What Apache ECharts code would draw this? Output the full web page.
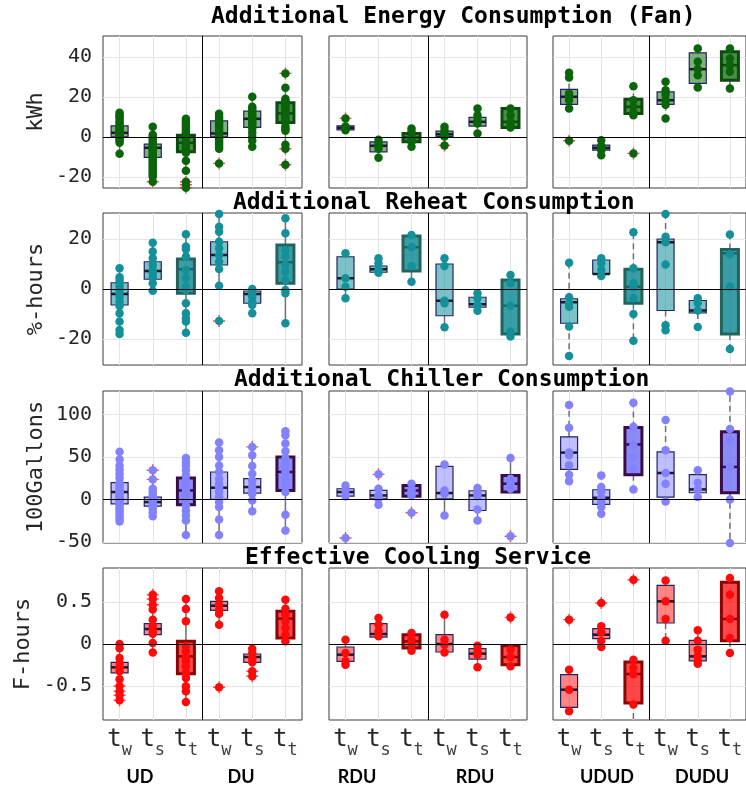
<!DOCTYPE html>
<html>
<head>
<meta charset="utf-8">
<script src="https://cdn.jsdelivr.net/npm/echarts@6.0.0/dist/echarts.min.js"></script>
<style>
  html, body { margin: 0; padding: 0; background: #fff; }
  #chart { width: 746px; height: 786px; }
</style>
</head>
<body>
<div id="chart"></div>
<script>
// box order in every metric: UD tw,ts,tt, DU tw,ts,tt | RDU x2 | UDUD, DUDU
const tickBase = ['t', 't', 't', 't', 't', 't'];
const tickSub = ['w', 's', 't', 'w', 's', 't'];
const groupNames = ['UD', 'DU', 'RDU', 'RDU', 'UDUD', 'DUDU'];
const titles = ['Additional Energy Consumption (Fan)', 'Additional Reheat Consumption',
  'Additional Chiller Consumption', 'Effective Cooling Service'];
const yNames = ['kWh', '%-hours', '100Gallons', 'F-hours'];

// y-axis extents and tick labels per row
const yMin = [-25.6, -30.4, -51.2, -0.905];
const yMax = [50.4, 30.4, 127.5, 0.905];
const fanTicks = [-20, 0, 20, 40];
const reheatTicks = [-20, 0, 20];
const chillerTicks = [-50, 0, 50, 100];
const coolingTicks = [-0.5, 0, 0.5];

// [lower whisker, q1, median, q3, upper whisker]
const fanStats = [
  [-8.5, 0, 2, 5.5, 12], [-20, -10.3, -5.5, -3.7, 5], [-17, -7.5, -3, 0.8, 9],
  [-6, 0, 1.7, 8, 11.5], [-5, 4.7, 9, 12.8, 20], [-4, 7.2, 11.7, 17, 24.5],
  [3.3, 3.5, 4.5, 5.5, 5.5], [-10.5, -7.5, -4.5, -2.5, -1.5], [-5, -2.5, -0.3, 1.7, 4.2],
  [0.2, 0.2, 1.3, 2.8, 5], [1.7, 5.3, 7.5, 9.7, 14.2], [4.7, 4.7, 7.5, 14.2, 14.2],
  [14.2, 16.2, 20, 23.7, 32], [-9.2, -6.7, -5.5, -4.2, -1.7], [10.8, 11.7, 15, 18.8, 25.3],
  [9.2, 16.2, 18.3, 22.5, 27.5], [24.7, 26.7, 33.8, 42, 44.2], [24.2, 28.3, 35.8, 42.5, 44.2]
];
const fanPoints = [
  [12, 11, 10, 9.5, 8, 7, 6, 5, 4.5, 4, 3, 2.5, 2, 1.5, 1, 0.5, 0, -0.5, -1, -2, -3, -8.5],
  [5, 1, 0, -1, -2, -3, -4, -5, -6, -7, -8, -9, -10, -11, -12, -13, -14, -15, -16, -17, -18, -19, -20, -22.5],
  [9, 8, 7, 6, 5, 4, 3, 2, 1, 0, -1, -2, -3, -4, -5, -6, -7, -8, -12, -17, -22.5, -24, -25.5],
  [11.5, 10, 9, 8, 7, 6, 5, 4, 3, 2, 1, 0, -1, -2, -3, -4, -5, -6, -13.3],
  [20, 15, 14, 13, 12, 11, 10, 9, 8, 7, 6, 5, 4, 2, 0, -2, -5],
  [31.7, 24.5, 19, 18, 17, 16, 15, 14, 13, 12, 11, 10, 9, 8, 7, 5, 4, 3, -4, -6, -14],
  [9.2, 5.2, 4.5, 4, 3.3], [-1.5, -3.5, -4.5, -6, -10.5], [4.2, 2.5, 0, -1, -2.5, -5],
  [5, 3.3, 1.7, 0.8, 0.2, -4.3], [14.2, 10.8, 8.3, 6.7, 1.7], [14.2, 10.8, 7.5, 6.7, 4.7],
  [32, 29.7, 21.7, 20, 18.3, 14.2, -2], [-1.7, -4.5, -5.5, -6.7, -9.2], [25.3, 18.3, 15, 12, 10.8, -8.3],
  [27.5, 23.3, 21.2, 18.3, 16, 9.2], [44.2, 37.5, 33.8, 30.8, 24.7], [44.2, 39.2, 35.8, 32.5, 24.2]
];
const fanOutliers = [
  [], [-22.5], [-22.5, -24, -25.5], [-13.3], [], [31.7, -6, -14],
  [9.2], [], [], [-4.3], [], [],
  [-2], [], [-8.3], [], [], []
];

const reheatStats = [
  [-18, -6.4, -2, 2.5, 8.3], [-0.7, 3.9, 7.2, 10.9, 18.5], [-17.5, -1.7, 7.9, 12, 21.9],
  [1.3, 9.6, 13.6, 18.9, 30], [-9.7, -5.7, -2, -0.8, 0], [-13.7, 2.3, 10.7, 17.6, 28.3],
  [-3.7, 0, 4.3, 12.9, 14.3], [6.5, 6.7, 7.9, 9.2, 12.3], [2.9, 7.2, 16.7, 21.2, 21.6],
  [-15.3, -10.7, -4.7, 10, 12.3], [-8.7, -7.3, -6.1, -3.3, -1.7], [-19, -18, -6.7, 3.6, 5.6],
  [-26.8, -13.7, -5.3, -3.9, 10.5], [5.2, 6, 6, 11.6, 12.3], [-20.7, -5.7, 0.9, 7.9, 22.7],
  [-16.5, -8.6, 18.7, 20, 30], [-15.2, -9.6, -8.6, -4.6, -3.7], [-24, -18, 14.3, 15.8, 21.8]
];
const reheatPoints = [
  [8.3, 4.7, 3.6, 2.3, 0.9, -0.4, -1.7, -3.1, -5.1, -6.8, -9.7, -13, -16.4, -18],
  [18.5, 15, 12.3, 9.6, 7.6, 6.3, 4.7, 2.3, -0.7],
  [21.9, 17, 15.9, 13, 7.6, 4.3, 0.9, -0.4, -5.7, -9.7, -11.7, -13, -17.5],
  [30, 24.9, 22.9, 18.9, 16.3, 13.6, 10.9, 8, 1.3, -12.8],
  [0, -2, -3.1, -5.1, -6.4, -9.7],
  [28.3, 22.3, 15.6, 13, 9.6, 6.9, 3.6, -0.4, -1.7, -13.7],
  [14.3, 4.3, 0.9, -3.7], [12.3, 10.3, 7.6, 6.5], [21.6, 16.7, 9.2, 2.9],
  [12.3, 9.2, -4.7, -5.7, -15.3], [-1.7, -3.7, -6.4, -8.7], [5.6, 2.3, -6.7, -17, -19],
  [10.5, -3.3, -5.7, -7.1, -15, -26.8], [12.3, 10.3, 7.6, 5.2], [22.7, 8.3, 2.3, 0.7, -3.7, -10, -20.7],
  [30, 20.9, 18.7, 9.8, -14.5, -16.5], [-3.7, -5.6, -8.6, -15.2], [21.8, 13.9, 0.9, -24]
];
const reheatOutliers = [
  [], [], [], [-12.8], [], [],
  [], [], [], [], [], [],
  [], [], [], [], [], []
];

const chillerStats = [
  [-26, -5.1, 8.7, 19.7, 56], [-19.7, -7.9, -3.1, 2.8, 12.6], [-41.7, -6.3, 10.6, 25.2, 48.8],
  [-41.7, 0, 13.8, 32.3, 66.9], [-13.8, 7.5, 14.6, 24.4, 52], [-36.6, 10.6, 32.3, 50, 80.3],
  [3.9, 3.9, 8.7, 12.6, 16.5], [-6.3, 0.8, 4.7, 10.6, 12.6], [3.9, 3.9, 10.6, 16.5, 18.5],
  [-18.9, 0.8, 7.5, 39, 41], [-24.8, -13, 4.7, 10.2, 13.4], [8.7, 8.7, 18.5, 28.3, 48.8],
  [21.3, 35.4, 55.1, 73.6, 111], [-16.9, -5.9, 2, 11.4, 28.3], [11.8, 29.1, 64.6, 84.6, 113.8],
  [-2.4, 2.8, 31.1, 55.9, 93.3], [2.8, 7.9, 11.8, 29.1, 34.3], [-51.2, 7.9, 38.2, 79.5, 126.8]
];
const chillerPoints = [
  [56, 47, 40, 35, 30, 25, 20, 17, 14, 11, 9, 7, 5, 3, 1, -1, -3, -5, -8, -11, -14, -17, -20, -23, -26],
  [34.3, 23.6, 12.6, 8.7, 4.7, 1.6, -1.2, -3.9, -7.1, -11, -15, -19.7],
  [48.8, 44, 40, 34.3, 28.3, 22.4, 16.5, 10.6, 4.7, -1.2, -7.1, -13, -18.9, -24.8, -41.7],
  [66.9, 57.9, 50, 40, 32.3, 24.4, 18.5, 13.8, 8.7, 2.8, -3.1, -9, -23.6, -41.7],
  [61.8, 52, 39.4, 30.3, 22.4, 16.5, 11.8, 6.7, -1.2, -13.8],
  [80.3, 75.6, 65.7, 56.7, 48, 40, 32.3, 24.4, 16.5, 8.7, -18.1, -36.6],
  [16.5, 10.6, 3.9, -45.3], [29.5, 12.6, 4.7, 0.8, -6.3], [18.5, 10.6, 4.7, -15.7],
  [41, 10.6, 6.7, -18.9], [13.4, 6.7, 3.9, -11.8, -24.8], [48.8, 24.4, 18.5, 12.6, -43.3],
  [111, 84.3, 55.1, 52, 40.2, 29.1, 21.3], [28.3, 14.6, 8.7, 2, -3.1, -9, -16.9], [113.8, 85.4, 63.8, 50, 36.2, 11.8],
  [93.3, 57.9, 31.1, 18.5, -2.4], [34.3, 19.7, 11.8, 2.8], [126.8, 82.7, 69.7, 38.2, 0, -51.2]
];
const chillerOutliers = [
  [], [34.3, 23.6], [], [], [61.8], [],
  [-45.3], [29.5], [-15.7], [], [], [-43.3],
  [], [], [], [], [], []
];

const coolingStats = [
  [-0.42, -0.345, -0.278, -0.218, 0], [-0.1, 0.111, 0.179, 0.242, 0.41], [-0.69, -0.353, -0.147, 0.032, 0.536],
  [0.23, 0.4, 0.456, 0.508, 0.627], [-0.22, -0.218, -0.155, -0.119, -0.056], [0.032, 0.071, 0.302, 0.389, 0.528],
  [-0.246, -0.206, -0.127, -0.036, 0.052], [0.083, 0.083, 0.119, 0.242, 0.31], [-0.079, -0.048, 0.032, 0.111, 0.131],
  [-0.1, -0.095, 0, 0.111, 0.349], [-0.278, -0.179, -0.115, -0.056, -0.02], [-0.266, -0.246, -0.155, -0.02, -0.02],
  [-0.802, -0.754, -0.544, -0.365, -0.306], [-0.036, 0.063, 0.111, 0.182, 0.21], [-0.95, -0.702, -0.357, -0.214, -0.187],
  [0.04, 0.25, 0.508, 0.698, 0.757], [-0.234, -0.2, -0.147, 0.044, 0.163], [-0.107, 0.04, 0.298, 0.734, 0.786]
];
const coolingPoints = [
  [0, -0.05, -0.167, -0.226, -0.278, -0.325, -0.42, -0.5, -0.563, -0.61, -0.67],
  [0.587, 0.536, 0.468, 0.41, 0.29, 0.218, 0.171, 0.123, 0.012, -0.1],
  [0.536, 0.417, 0.27, -0.028, -0.087, -0.155, -0.206, -0.266, -0.345, -0.405, -0.504, -0.563, -0.69],
  [0.627, 0.548, 0.468, 0.409, 0.361, 0.23, -0.516],
  [-0.056, -0.107, -0.167, -0.218, -0.325, -0.385],
  [0.528, 0.421, 0.349, 0.27, 0.19, 0.111, 0.032],
  [0.052, -0.107, -0.206, -0.246], [0.31, 0.23, 0.151, 0.091], [0.131, 0.06, -0.008, -0.079],
  [0.349, 0.052, -0.008, -0.1], [-0.02, -0.087, -0.127, -0.278], [0.317, -0.067, -0.155, -0.266],
  [0.29, -0.306, -0.544, -0.802], [0.488, 0.21, 0.14, 0.04, -0.036], [0.765, -0.187, -0.286, -0.36, -0.72],
  [0.757, 0.508, 0.298, 0.04], [0.163, 0.04, -0.067, -0.14, -0.2, -0.234], [0.786, 0.587, 0.298, 0.071, -0.107]
];
const coolingOutliers = [
  [-0.5, -0.563, -0.61, -0.67], [0.587, 0.536, 0.468], [], [-0.516], [-0.325, -0.385], [],
  [], [], [], [], [], [0.317],
  [0.29], [0.488], [0.765], [], [], []
];

// colours per row
const pointColor = ['#0a640a', '#13909a', '#8282ff', '#ff0a0a'];
const boxFill = ['rgba(0,100,0,0.5)', 'rgba(0,138,148,0.52)', 'rgba(128,128,255,0.5)', 'rgba(255,0,0,0.48)'];
const boxFillT = ['rgba(0,100,0,0.72)', 'rgba(0,130,138,0.78)', 'rgba(110,110,245,0.8)', 'rgba(255,0,0,0.72)'];
const edgeT = ['#0d4a0d', '#22645c', '#3a0c48', '#8a0606'];

const rowStats = [fanStats, reheatStats, chillerStats, coolingStats];
const rowPoints = [fanPoints, reheatPoints, chillerPoints, coolingPoints];
const rowOutliers = [fanOutliers, reheatOutliers, chillerOutliers, coolingOutliers];
const rowTicks = [fanTicks, reheatTicks, chillerTicks, coolingTicks];

const colLeft = [103, 329, 553];
const colWidth = [199, 198, 198];
const rowTop = [36, 213, 391, 568];
const rowHeight = 152;
const titleLeft = [211, 233, 234, 245];
const titleTop = [6, 192, 369, 547];
const groupX = [140, 241, 357, 475, 607, 702];
const mono = 'DejaVu Sans Mono';

const chart = echarts.init(document.getElementById('chart'));

function boxRenderer(r, c) {
  return function (params, api) {
    const x = api.value(0);
    const lo = api.coord([x, api.value(1)]);
    const q1 = api.coord([x, api.value(2)]);
    const md = api.coord([x, api.value(3)]);
    const q3 = api.coord([x, api.value(4)]);
    const hi = api.coord([x, api.value(5)]);
    const thick = x % 3 === 2;
    const cx = md[0];
    const half = 8.5;
    const wStyle = { stroke: '#707070', lineWidth: 1.5, lineDash: c === 2 ? [6, 4] : null };
    return {
      type: 'group',
      children: [
        { type: 'line', shape: { x1: cx, y1: q3[1], x2: cx, y2: hi[1] }, style: wStyle },
        { type: 'line', shape: { x1: cx, y1: q1[1], x2: cx, y2: lo[1] }, style: wStyle },
        {
          type: 'rect',
          shape: { x: cx - half, y: q3[1], width: half * 2, height: Math.max(q1[1] - q3[1], 1) },
          style: {
            fill: thick ? boxFillT[r] : boxFill[r],
            stroke: thick ? edgeT[r] : '#232360',
            lineWidth: thick ? 3 : 1.2
          }
        },
        {
          type: 'line',
          shape: { x1: cx - half, y1: md[1], x2: cx + half, y2: md[1] },
          style: { stroke: thick ? edgeT[r] : '#1a1a2a', lineWidth: 2.5 }
        }
      ]
    };
  };
}

const grids = [], xAxes = [], yAxes = [], series = [];
for (let r = 0; r < 4; r++) {
  for (let c = 0; c < 3; c++) {
    const g = r * 3 + c;
    grids.push({
      left: colLeft[c], top: rowTop[r], width: colWidth[c], height: rowHeight,
      show: true, borderColor: '#3c3c3c', borderWidth: 1, backgroundColor: '#fff'
    });
    xAxes.push({
      type: 'value', gridIndex: g, min: -0.5, max: 5.5,
      axisLine: { show: false },
      axisTick: { show: false, customValues: [0, 1, 2, 3, 4, 5] },
      splitLine: { show: true, lineStyle: { color: '#e4e4e4', width: 1 } },
      axisLabel: {
        show: r === 3,
        customValues: [0, 1, 2, 3, 4, 5],
        margin: 8,
        formatter: v => '{m|' + tickBase[v] + '}{s|' + tickSub[v] + '}',
        rich: {
          m: { fontFamily: mono, fontSize: 24, color: '#262626', verticalAlign: 'top', lineHeight: 26 },
          s: { fontFamily: mono, fontSize: 17, color: '#404040', verticalAlign: 'top', lineHeight: 18, padding: [14, 0, 0, 0] }
        }
      }
    });
    yAxes.push({
      type: 'value', gridIndex: g, min: yMin[r], max: yMax[r],
      name: c === 0 ? yNames[r] : '',
      nameLocation: 'middle', nameGap: r === 3 ? 69 : 56,
      nameTextStyle: { fontFamily: mono, fontSize: 22, color: '#262626' },
      axisLine: { show: false },
      axisTick: { show: false, customValues: rowTicks[r] },
      splitLine: { show: true, lineStyle: { color: '#e4e4e4', width: 1 } },
      axisLabel: {
        show: c === 0, customValues: rowTicks[r], margin: 11,
        fontFamily: mono, fontSize: 20, color: '#262626'
      }
    });

    series.push({
      type: 'line', xAxisIndex: g, yAxisIndex: g, data: [], z: 1, silent: true,
      markLine: {
        silent: true, symbol: ['none', 'none'], label: { show: false },
        lineStyle: { color: '#000', width: 1, type: 'solid' },
        data: [{ yAxis: 0 }, { xAxis: 2.5 }]
      }
    });
    const stats = rowStats[r].slice(c * 6, c * 6 + 6);
    series.push({
      type: 'custom', xAxisIndex: g, yAxisIndex: g, z: 2, clip: true,
      renderItem: boxRenderer(r, c),
      encode: { x: 0, y: [1, 2, 3, 4, 5] },
      data: stats.map((s, i) => [i].concat(s))
    });
    const outs = [];
    rowOutliers[r].slice(c * 6, c * 6 + 6).forEach((list, i) => list.forEach(v => outs.push([i, v])));
    series.push({
      type: 'scatter', xAxisIndex: g, yAxisIndex: g, z: 3, clip: true,
      symbol: 'path://M4.4,0H5.6V4.4H10V5.6H5.6V10H4.4V5.6H0V4.4H4.4Z',
      symbolSize: 12, itemStyle: { color: '#ff2020' },
      data: outs
    });
    const pts = [];
    rowPoints[r].slice(c * 6, c * 6 + 6).forEach((list, i) => list.forEach(v => pts.push([i, v])));
    series.push({
      type: 'scatter', xAxisIndex: g, yAxisIndex: g, z: 4, clip: false,
      symbol: 'circle', symbolSize: 8.5, itemStyle: { color: pointColor[r], opacity: 1 },
      data: pts
    });
  }
}

const graphics = groupNames.map((name, i) => ({
  type: 'text', x: groupX[i], y: 777,
  style: {
    text: name, fill: '#000', font: 'bold 18px Lato',
    textAlign: 'center', textVerticalAlign: 'middle'
  }
}));

chart.setOption({
  animation: false,
  backgroundColor: '#fff',
  title: titles.map((t, i) => ({
    text: t, left: titleLeft[i], top: titleTop[i], padding: 0,
    textStyle: { fontFamily: mono, fontWeight: 'bold', fontSize: 23, color: '#000' }
  })),
  grid: grids,
  xAxis: xAxes,
  yAxis: yAxes,
  series: series,
  graphic: graphics
});
</script>
</body>
</html>
